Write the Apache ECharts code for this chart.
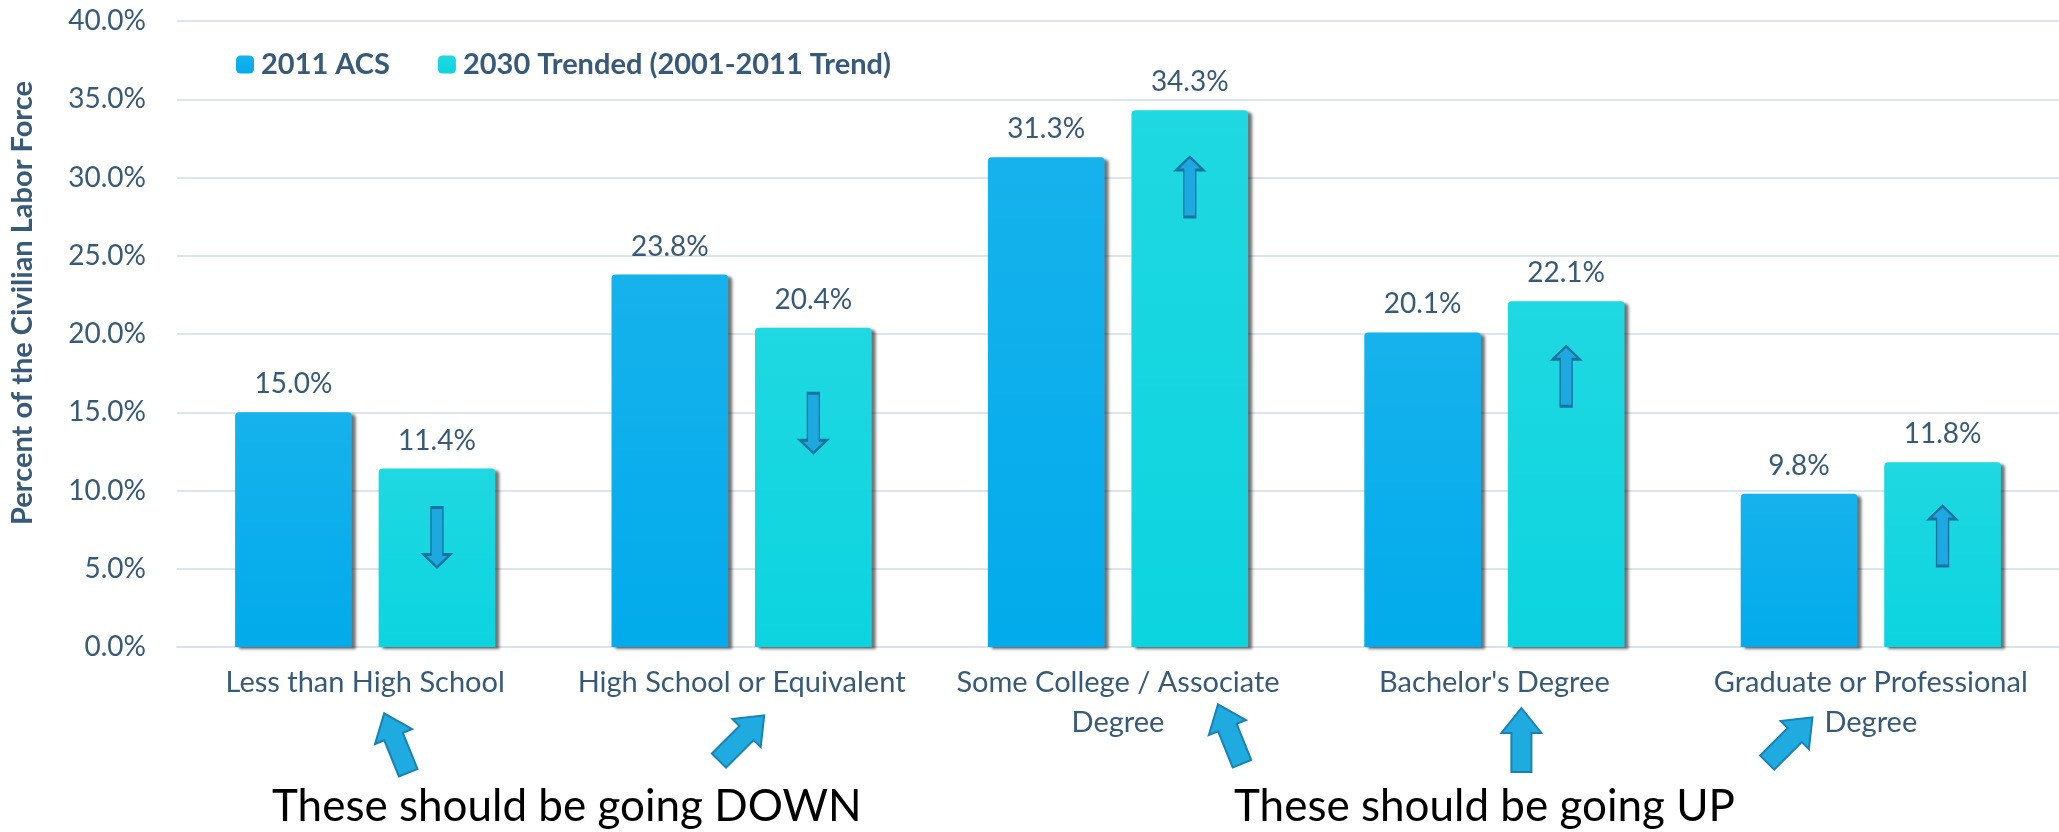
<!DOCTYPE html>
<html>
<head>
<meta charset="utf-8">
<script src="https://cdn.jsdelivr.net/npm/echarts@6/dist/echarts.min.js"></script>
<style>html,body{margin:0;padding:0;background:#fff}#c{width:2059px;height:832px}</style>
</head>
<body>
<div id="c"></div>
<script>
const categories = ['Less than High School', 'High School or Equivalent', 'Some College / Associate\nDegree', "Bachelor's Degree", 'Graduate or Professional\nDegree'];
const acs2011 = [15.0, 23.8, 31.3, 20.1, 9.8];
const trended2030 = [11.4, 20.4, 34.3, 22.1, 11.8];
const seriesNames = ['2011 ACS', '2030 Trended (2001-2011 Trend)'];
const yTicks = [0, 5, 10, 15, 20, 25, 30, 35, 40];
// direction of the hand-drawn arrows inside the trended bars (+1 up, -1 down) and their level
const trendDirection = [-1, -1, 1, 1, 1];
const arrowLevels = [7.0, 14.3, 29.4, 17.3, 7.1];
const notes = ['These should be going DOWN', 'These should be going UP'];

const txt = '#375A78';
const font = 'Lato';
const chart = echarts.init(document.getElementById('c'), null, {renderer: 'canvas'});

const arrowPath = 'path://M13.5,0 L27,13 L19.5,13 L19.5,60 L7.5,60 L7.5,13 L0,13 Z';

const option = {
  animation: false,
  backgroundColor: '#fff',
  textStyle: {fontFamily: font},
  grid: {left: 175, right: 0, top: 21, bottom: 185},
  legend: {
    left: 231, top: 45,
    icon: 'roundRect', itemWidth: 18, itemHeight: 18, itemGap: 48,
    textStyle: {fontFamily: font, fontWeight: 'bold', fontSize: 29, color: txt, padding: [0, 0, 0, 2]},
    data: seriesNames
  },
  xAxis: {
    type: 'category',
    data: categories,
    axisLine: {show: true, lineStyle: {color: '#D8E2EC', width: 2}},
    axisTick: {show: false},
    axisLabel: {fontFamily: font, fontSize: 29, color: txt, lineHeight: 40, margin: 16, interval: 0}
  },
  yAxis: {
    type: 'value',
    min: yTicks[0], max: yTicks[yTicks.length - 1], interval: yTicks[1] - yTicks[0],
    name: 'Percent of the Civilian Labor Force',
    nameLocation: 'middle', nameRotate: 90, nameGap: 140,
    nameTextStyle: {fontFamily: font, fontWeight: 'bold', fontSize: 29, color: txt, padding: [0, 0, 0, 62]},
    axisLine: {show: false}, axisTick: {show: false},
    axisLabel: {fontFamily: font, fontSize: 28, color: txt, margin: 31, formatter: v => v.toFixed(1) + '%'},
    splitLine: {lineStyle: {color: '#DCE5EE', width: 2}}
  },
  series: [
    {
      name: seriesNames[0], type: 'bar', data: acs2011,
      barWidth: '31%', barGap: '23%',
      itemStyle: {
        color: new echarts.graphic.LinearGradient(0, 0, 0, 1, [{offset: 0, color: '#16B2EC'}, {offset: 1, color: '#02ABEB'}]),
        borderRadius: [4, 4, 0, 0],
        shadowColor: 'rgba(0,0,0,0.55)', shadowBlur: 3, shadowOffsetX: 4, shadowOffsetY: 2
      },
      label: {show: true, position: 'top', distance: 14, fontFamily: font, fontSize: 28, color: txt, formatter: p => p.value.toFixed(1) + '%'}
    },
    {
      name: seriesNames[1], type: 'bar', data: trended2030,
      barWidth: '31%', barGap: '23%',
      itemStyle: {
        color: new echarts.graphic.LinearGradient(0, 0, 0, 1, [{offset: 0, color: '#1FD8E1'}, {offset: 1, color: '#0CD4DF'}]),
        borderRadius: [4, 4, 0, 0],
        shadowColor: 'rgba(0,0,0,0.55)', shadowBlur: 3, shadowOffsetX: 4, shadowOffsetY: 2
      },
      label: {show: true, position: 'top', distance: 14, fontFamily: font, fontSize: 28, color: txt, formatter: p => p.value.toFixed(1) + '%'},
      markPoint: {
        symbol: arrowPath,
        symbolSize: [27, 60],
        itemStyle: {color: '#1EA8E0', borderColor: '#17739F', borderWidth: 2},
        label: {show: false},
        data: arrowLevels.map((lv, i) => ({coord: [i, lv], symbolRotate: trendDirection[i] > 0 ? 0 : 180}))
      }
    }
  ]
};
chart.setOption(option);

// annotation block arrows under the category labels
const blockArrow = [[0, -32], [20, -7], [10, -7], [10, 32], [-10, 32], [-10, -7], [-20, -7]];
const arrowSpecs = [
  {cat: 0, dx: 31, y: 743, rot: 22},
  {cat: 1, dx: 0, y: 738, rot: -45},
  {cat: 2, dx: 112, y: 734, rot: 22},
  {cat: 3, dx: 27, y: 740, rot: 0},
  {cat: 4, dx: -81, y: 740, rot: -45}
];
const graphics = arrowSpecs.map(s => {
  const cx = chart.convertToPixel({xAxisIndex: 0}, s.cat);
  return {
    type: 'polygon', x: cx + s.dx, y: s.y, rotation: s.rot * Math.PI / 180,
    shape: {points: blockArrow},
    style: {fill: '#1FAAE0', stroke: '#1783B5', lineWidth: 2},
    z: 10
  };
});
graphics.push({type: 'text', x: 272, y: 807, style: {text: notes[0], font: '44px Lato', fill: '#000', verticalAlign: 'middle'}});
graphics.push({type: 'text', x: 1234, y: 807, style: {text: notes[1], font: '44px Lato', fill: '#000', verticalAlign: 'middle'}});
chart.setOption({graphic: graphics});
</script>
</body>
</html>
